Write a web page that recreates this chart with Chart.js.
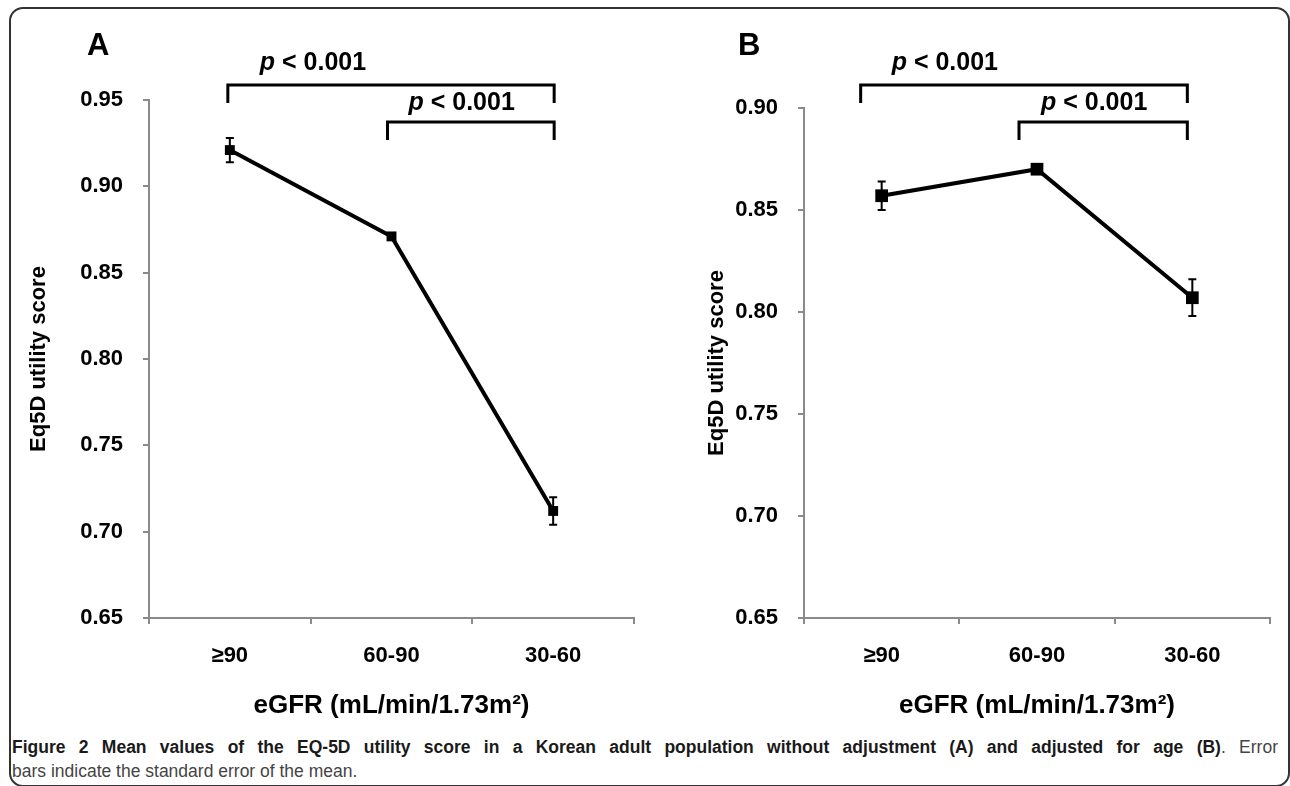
<!DOCTYPE html>
<html><head><meta charset="utf-8">
<script src="https://cdn.jsdelivr.net/npm/chart.js@4.4.1/dist/chart.umd.min.js"></script>
<style>
html,body{margin:0;padding:0;background:#fff}
body{width:1290px;height:786px;position:relative;overflow:hidden;font-family:"Liberation Sans",Arial,sans-serif}
#frame{position:absolute;left:9px;top:7px;width:1281px;height:780px;border:2px solid #333;border-radius:14px;box-sizing:border-box}
canvas{position:absolute;top:0}
#cap{position:absolute;left:12px;top:735px;width:1266px;font-family:"Liberation Sans",Arial,sans-serif;font-size:17.5px;line-height:24px;color:#444}
#cap .l1{text-align:justify;text-align-last:justify}
#cap b{color:#1a1a1a}
</style></head>
<body>
<div id="frame"></div>
<div style="position:absolute;left:0;top:0;width:645px;height:730px"><canvas id="cA" width="645" height="730" style="left:0"></canvas></div>
<div style="position:absolute;left:645px;top:0;width:645px;height:730px"><canvas id="cB" width="645" height="730" style="left:0"></canvas></div>
<div id="cap"><div class="l1"><b>Figure 2 Mean values of the EQ-5D utility score in a Korean adult population without adjustment (A) and adjusted for age (B)</b>. Error</div><div>bars indicate the standard error of the mean.</div></div>
<script>
// ---- data ----
const categories = ['\u226590', '60-90', '30-60'];
const meanA = [0.921, 0.871, 0.712];
const seA = [0.007, 0.002, 0.008];
const meanB = [0.857, 0.870, 0.807];
const seB = [0.007, 0.002, 0.009];
const yTicksA = [0.65, 0.70, 0.75, 0.80, 0.85, 0.90, 0.95];
const yTicksB = [0.65, 0.70, 0.75, 0.80, 0.85, 0.90];
const pText = 'p';
const pRest = ' < 0.001';
const xTitle = 'eGFR (mL/min/1.73m\u00B2)';
const yTitle = 'Eq5D utility score';

const AXIS = '#8a8a8a';
const FONT = '"Liberation Sans", Arial, sans-serif';

const errPlugin = {
  id: 'err',
  afterDatasetsDraw(chart, args, o) {
    const {ctx} = chart; const xs = chart.scales.x, ys = chart.scales.y;
    ctx.save(); ctx.strokeStyle = '#000'; ctx.lineWidth = 2;
    o.means.forEach((m, i) => {
      const px = xs.getPixelForValue(i);
      const t = ys.getPixelForValue(m + o.se[i]);
      const b = ys.getPixelForValue(m - o.se[i]);
      ctx.beginPath();
      ctx.moveTo(px, t); ctx.lineTo(px, b);
      ctx.moveTo(px - 4, t); ctx.lineTo(px + 4, t);
      ctx.moveTo(px - 4, b); ctx.lineTo(px + 4, b);
      ctx.stroke();
    });
    ctx.restore();
  }
};

const annPlugin = {
  id: 'ann',
  afterDraw(chart, args, o) {
    const {ctx} = chart; const xs = chart.scales.x;
    ctx.save();
    ctx.fillStyle = '#000'; ctx.textBaseline = 'alphabetic'; ctx.textAlign = 'left';
    ctx.font = 'bold 31px ' + FONT;
    ctx.fillText(o.label, o.labelX, 55);
    ctx.strokeStyle = '#000'; ctx.lineWidth = 3; ctx.lineCap = 'butt';
    o.brackets.forEach(br => {
      const x1 = xs.getPixelForValue(br.from) + br.dx1;
      const x2 = xs.getPixelForValue(br.to) + br.dx2;
      ctx.beginPath();
      ctx.moveTo(x1, br.y + br.leg); ctx.lineTo(x1, br.y); ctx.lineTo(x2, br.y); ctx.lineTo(x2, br.y + br.leg);
      ctx.stroke();
      const tx = xs.getPixelForValue(br.from) + br.tdx;
      ctx.font = 'italic bold 25px ' + FONT;
      ctx.fillText(pText, tx, br.ty);
      const w = ctx.measureText(pText).width;
      ctx.font = 'bold 25px ' + FONT;
      ctx.fillText(pRest, tx + w, br.ty);
    });
    ctx.restore();
  }
};

function makeChart(id, means, se, ticks, cfg) {
  return new Chart(document.getElementById(id), {
    type: 'line',
    data: {
      labels: categories,
      datasets: [{
        data: means, borderColor: '#000', borderWidth: 4, tension: 0,
        pointStyle: 'rect', pointRadius: cfg.pr, pointHoverRadius: cfg.pr,
        pointBackgroundColor: '#000', pointBorderColor: '#000', pointBorderWidth: 0,
        fill: false, clip: false
      }]
    },
    options: {
      responsive: false, animation: false, devicePixelRatio: 1,
      layout: {padding: {left: 0, top: cfg.top, right: cfg.right, bottom: 0}},
      plugins: {
        legend: {display: false}, tooltip: {enabled: false},
        err: {means: means, se: se},
        ann: cfg.ann
      },
      scales: {
        x: {
          type: 'category', offset: true,
          grid: {offset: true, drawOnChartArea: false, drawTicks: true, tickLength: 6, color: AXIS, lineWidth: 2},
          border: {color: AXIS, width: 2},
          ticks: {color: '#000', font: {family: FONT, size: 22, weight: 'bold'}, padding: 19},
          title: {display: true, text: xTitle, color: '#000', font: {family: FONT, size: 26, weight: 'bold'}, padding: {top: 0, bottom: 9}},
          afterFit(s) { s.height = 730 - cfg.axisY; }
        },
        y: {
          min: ticks[0], max: ticks[ticks.length - 1],
          afterBuildTicks(s) { s.ticks = ticks.map(v => ({value: v})); },
          grid: {drawOnChartArea: false, drawTicks: true, tickLength: 6, color: AXIS, lineWidth: 2},
          border: {color: AXIS, width: 2},
          ticks: {color: '#000', font: {family: FONT, size: 22, weight: 'bold'}, padding: 20,
                  callback: v => Number(v).toFixed(2)},
          title: {display: true, text: yTitle, color: '#000', font: {family: FONT, size: 22, weight: 'bold'}, padding: {top: cfg.ytp, bottom: 0}},
          afterFit(s) { s.width = cfg.axisX; }
        }
      }
    },
    plugins: [errPlugin, annPlugin]
  });
}

makeChart('cA', meanA, seA, yTicksA, {
  pr: 7, top: 100, right: 11, axisY: 618, axisX: 149, ytp: 26,
  ann: {label: 'A', labelX: 87, brackets: [
    {from: 0, to: 2, dx1: -2, dx2: 1, y: 85, leg: 18, tdx: 30, ty: 70},
    {from: 1, to: 2, dx1: -4, dx2: 1, y: 122, leg: 18, tdx: 17, ty: 110}
  ]}
});
makeChart('cB', meanB, seB, yTicksB, {
  pr: 9, top: 108, right: 20, axisY: 618, axisX: 159, ytp: 59,
  ann: {label: 'B', labelX: 93, brackets: [
    {from: 0, to: 2, dx1: -21, dx2: -5, y: 85, leg: 18, tdx: 10, ty: 70},
    {from: 1, to: 2, dx1: -18, dx2: -5, y: 122, leg: 18, tdx: 4, ty: 110}
  ]}
});
</script>
</body></html>
